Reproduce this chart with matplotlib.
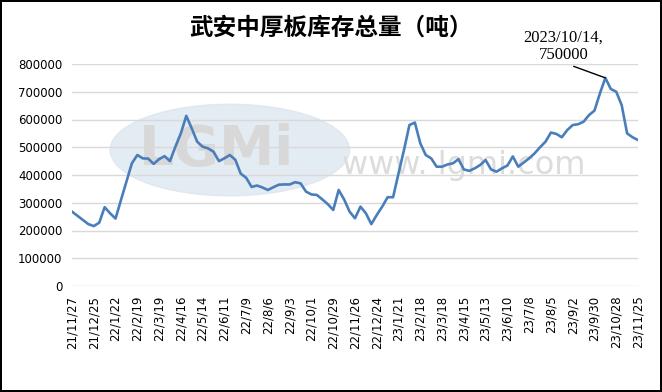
import numpy as np
import pandas as pd
import matplotlib
matplotlib.use("Agg")
import matplotlib.pyplot as plt
from matplotlib.patches import Ellipse

plt.rcParams['font.family'] = ['Noto Sans CJK SC', 'DejaVu Sans']

# weekly stock, 2021-11-27 .. 2023-11-25
start_date = "2021-11-27"
stock = [
    268000, 253000, 238000, 223000, 216000, 228000, 284000, 262000, 243000, 310000,
    376000, 442000, 472000, 460000, 459000, 440000, 457000, 468000, 450000, 502000,
    550000, 613000, 568000, 520000, 502000, 496000, 484000, 450000, 460000, 472000,
    455000, 405000, 390000, 357000, 362000, 355000, 346000, 356000, 365000, 366000,
    366000, 374000, 370000, 340000, 330000, 328000, 312000, 295000, 274000, 346000,
    312000, 268000, 244000, 286000, 262000, 223000, 256000, 286000, 320000, 320000,
    406000, 490000, 580000, 589000, 514000, 472000, 460000, 430000, 430000, 438000,
    442000, 457000, 420000, 415000, 424000, 436000, 454000, 420000, 412000, 424000,
    434000, 467000, 430000, 445000, 460000, 478000, 500000, 520000, 553000, 548000,
    536000, 562000, 580000, 583000, 592000, 616000, 632000, 694000, 750000, 710000,
    700000, 652000, 550000, 536000, 526000,
]
dates = pd.date_range(start_date, periods=len(stock), freq="7D")
labels = [f"{d.year % 100}/{d.month}/{d.day}" for d in dates]
peak_label = "2023/10/14,\n750000"

title = "武安中厚板库存总量（吨）"

fig = plt.figure(figsize=(6.62, 3.92), dpi=100, edgecolor="black", linewidth=1.5)
ax = fig.add_axes([72 / 662, 1 - 286 / 392, 566 / 662, 222 / 392])

x = np.arange(len(stock))

# watermark
ax.add_patch(Ellipse((29, 490000), 44, 330000, color="#dce6f0", alpha=0.8, zorder=0))
ax.text(26.5, 490000, "LGMi", fontsize=40, fontweight="bold", color="#d8d8d8",
        ha="center", va="center", zorder=0, family="DejaVu Sans")
ax.text(72, 436000, "www. lgmi.com", fontsize=23, color="#dcdcdc",
        ha="center", va="center", zorder=0, family="DejaVu Sans")

ax.plot(x, stock, color="#4a7ebb", lw=1.9, zorder=3, solid_joinstyle="round")

ax.set_xlim(0, len(stock) - 1)
ax.set_ylim(0, 800000)
ax.set_yticks(np.arange(0, 800001, 100000))
ax.set_yticklabels([str(v) for v in range(0, 800001, 100000)], fontsize=8.5,
                   family="DejaVu Sans")
ax.set_xticks(x[::4])
ax.set_xticklabels(labels[::4], rotation=90, fontsize=8.5, family="DejaVu Sans")
ax.tick_params(length=0, pad=7)
ax.grid(axis="y", color="#d9d9d9", lw=1)
ax.set_axisbelow(True)
for s in ax.spines.values():
    s.set_visible(False)

peak = int(np.argmax(stock))
ax.annotate(peak_label, xy=(peak, stock[peak]), xytext=(90.3, 805000),
            ha="center", va="bottom", fontsize=12, family="Liberation Serif",
            linespacing=1.1,
            arrowprops=dict(arrowstyle="-", color="black", lw=1,
                            shrinkA=2, shrinkB=0, relpos=(0.5, 0)))

fig.text(0.5, 1 - 28 / 392, title, ha="center", va="center",
         fontsize=17, fontweight="bold")

fig.savefig("out.png", dpi=100)
